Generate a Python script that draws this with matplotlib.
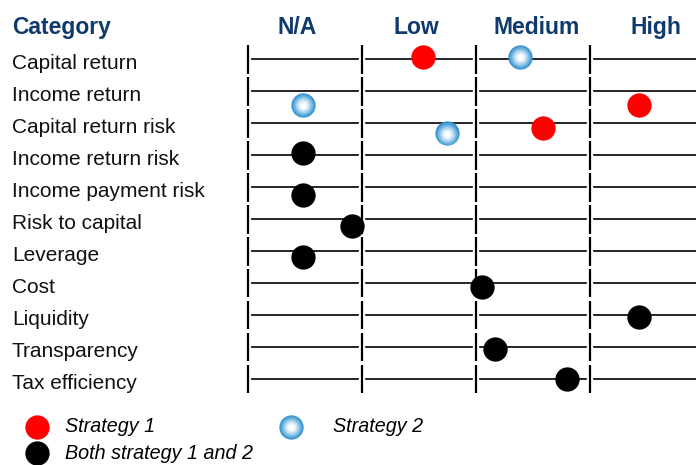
import matplotlib
matplotlib.use("Agg")
import matplotlib.pyplot as plt
import numpy as np

# ---------------- data ----------------
categories = ["Capital return", "Income return", "Capital return risk",
              "Income return risk", "Income payment risk", "Risk to capital",
              "Leverage", "Cost", "Liquidity", "Transparency", "Tax efficiency"]
levels = ["N/A", "Low", "Medium", "High"]

# scale position (0 = start of N/A band, 4 = end of High band)
s1_cats = ["Capital return", "Income return", "Capital return risk"]
s1_vals = [1.535, 3.43, 2.59]
s1_off = [-0.08, 0.42, 0.16]

s2_cats = ["Capital return", "Income return", "Capital return risk"]
s2_vals = [2.386, 0.485, 1.748]
s2_off = [-0.08, 0.43, 0.32]

both_cats = ["Income return risk", "Income payment risk", "Risk to capital",
             "Leverage", "Cost", "Liquidity", "Transparency", "Tax efficiency"]
both_vals = [0.485, 0.485, 0.91, 0.485, 2.055, 3.43, 2.17, 2.80]
both_off = [-0.08, 0.24, 0.20, 0.17, 0.11, 0.05, 0.07, 0.0]

legend_labels = ["Strategy 1", "Strategy 2", "Both strategy 1 and 2"]

# ---------------- style ----------------
NAVY = "#0f3a6b"
RED = "#ff0000"
plt.rcParams['font.family'] = ['Liberation Sans', 'DejaVu Sans']

fig = plt.figure(figsize=(6.96, 4.65), dpi=100)
ax = fig.add_axes([0, 0, 1, 1])
ax.set_xlim(-2.175, 3.93)
ax.set_ylim(12.69, -1.855)
ax.axis("off")

row = {c: i for i, c in enumerate(categories)}
n = len(categories)
gap = 0.035
MS = 17.5


def blue_ball(x, y, ms):
    # radial gradient: blue rim to white centre
    cols = ["#3a95cf", "#5aa9d9", "#7fbde3", "#a5d1ec", "#c8e3f4", "#e6f2fa", "#ffffff"]
    fracs = np.linspace(1.0, 0.25, len(cols))
    for c, f in zip(cols, fracs):
        ax.plot([x], [y + 0.02 * (1 - f)], "o", ms=ms * f, color=c, mec="none",
                zorder=5, clip_on=False)


# rows: separators and line segments
for i in range(n):
    for b in range(4):
        ax.plot([b, b], [i - 0.45, i + 0.45], color="black", lw=1.6, zorder=2,
                solid_capstyle="butt")
        end = b + 1 - gap if b < 3 else 4.2
        ax.plot([b + gap, end], [i, i], color="black", lw=1.2, zorder=1)
    ax.text(-2.07, i + 0.13, categories[i], fontsize=15, va="center",
            ha="left", color="#111111")

# headers
ax.text(-2.07, -0.98, "Category", fontsize=16.5, fontweight="bold", color=NAVY,
        va="center", ha="left")
head_x = [0.43, 1.48, 2.53, 3.58]
for lx, lab in zip(head_x, levels):
    ax.text(lx, -0.98, lab, fontsize=16.5, fontweight="bold", color=NAVY,
            va="center", ha="center")

# markers
for c, v, o in zip(s1_cats, s1_vals, s1_off):
    ax.plot([v], [row[c] + o], "o", ms=MS, color=RED, mec="none", zorder=5)
for c, v, o in zip(s2_cats, s2_vals, s2_off):
    blue_ball(v, row[c] + o, MS)
for c, v, o in zip(both_cats, both_vals, both_off):
    ax.plot([v], [row[c] + o], "o", ms=MS, color="black", mec="none", zorder=5)

# legend
ly1, ly2 = 11.50, 12.32
ax.plot([-1.85], [ly1], "o", ms=MS, color=RED, mec="none", clip_on=False)
ax.text(-1.605, ly1, legend_labels[0], fontsize=14.2, style="italic", va="center")
blue_ball(0.377, ly1, MS)
ax.text(0.746, ly1, legend_labels[1], fontsize=14.2, style="italic", va="center")
ax.plot([-1.85], [ly2], "o", ms=MS, color="black", mec="none", clip_on=False)
ax.text(-1.605, ly2, legend_labels[2], fontsize=14.2, style="italic", va="center")

fig.savefig("out.png", dpi=100)
